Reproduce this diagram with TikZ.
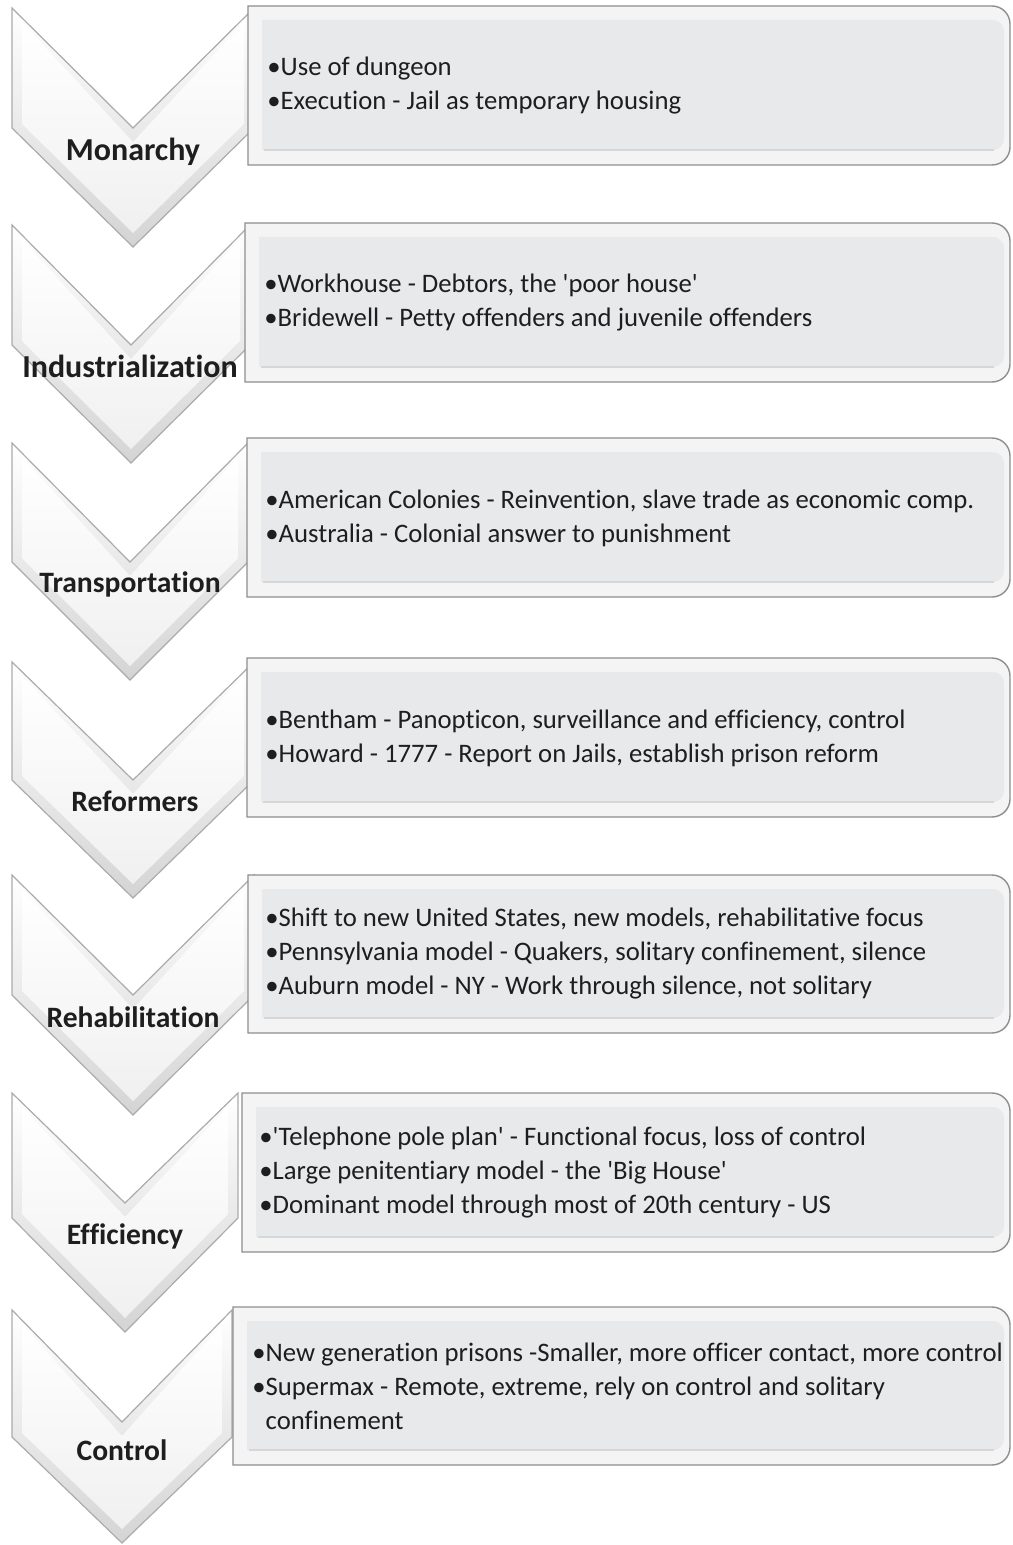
\documentclass[tikz,border=0pt]{standalone}
\usepackage{fontspec}
\newfontfamily\carl{Carlito}[Ligatures=CommonOff]
\definecolor{boxline}{HTML}{8E8E8E}
\definecolor{boxbevel}{HTML}{F4F4F5}
\definecolor{boxface}{HTML}{E8E9EB}
\definecolor{boxshade}{HTML}{D6D7D9}
\definecolor{chevline}{HTML}{ABABAB}
\definecolor{chevlow}{HTML}{D4D4D4}
\definecolor{chevinlow}{HTML}{F0F0F0}
\definecolor{txt}{HTML}{1E1E1E}
\tikzset{
  chevout/.style={draw=chevline, line width=0.6pt, top color=white, bottom color=chevlow},
  chevin/.style={top color=white, bottom color=chevinlow},
  boxout/.style={draw=boxline, line width=0.7pt, fill=boxbevel},
  boxin/.style={fill=boxface},
  boxedge/.style={draw=boxshade, line width=1.2pt},
  bodytext/.style={anchor=west, align=left, inner sep=0pt, text=txt,
    font={\carl\fontsize{13.35}{17}\selectfont}},
  stagelabel/.style={anchor=base, inner sep=0pt, text=txt,
    font={\carl\bfseries\fontsize{14.8}{18}\selectfont}},
  biglabel/.style={stagelabel, font={\carl\bfseries\fontsize{16}{19}\selectfont}}
}
% chevron: #1 top, #2 centre x, #3 notch depth, #4 side length, #5 tip y
\newcommand\chevshape[5]{%
  \path[chevout] (12,#1) -- (#2,{#1+#3}) -- ({2*#2-12},#1) -- ({2*#2-12},{#1+#4})
    -- (#2,#5) -- (12,{#1+#4}) -- cycle;
  \path[chevin] (22,{#1+14}) -- (#2,{#1+#3+14}) -- ({2*#2-22},{#1+14})
    -- ({2*#2-22},{#1+#4-4}) -- (#2,{#5-14}) -- (22,{#1+#4-4}) -- cycle;
}
% box with rounded right corners: #1 left, #2 top, #3 bottom, #4 right, #5 radius
\newcommand\rrpath[5]{%
  (#1,#2) -- ({#4-#5},#2) .. controls ({#4-0.448*#5},#2) and (#4,{#2+0.448*#5}) .. (#4,{#2+#5})
  -- (#4,{#3-#5}) .. controls (#4,{#3-0.448*#5}) and ({#4-0.448*#5},#3) .. ({#4-#5},#3)
  -- (#1,#3) -- cycle
}
\newcommand\stagebox[3]{%
  \path[boxout] \rrpath{#1}{#2}{#3}{1010}{18};
  \path[boxin] \rrpath{#1+14}{#2+14}{#3-15}{1004}{11};
  \draw[boxedge] ({#1+16},{#3-15}) -- (994,{#3-15});
}
\begin{document}
\begin{tikzpicture}[x=0.5pt,y=-0.5pt]
\useasboundingbox (0,0) rectangle (1012,1545);
\fill[white] (0,0) rectangle (1012,1545);

% stage 1
\chevshape{8}{133}{120}{120}{247}
\stagebox{248}{6}{165}
\node[bodytext] (t1) at (267,86) {•Use of dungeon\\•Execution - Jail as temporary housing};
% stage 2
\chevshape{225}{131}{120}{120}{463}
\stagebox{245}{223}{382}
\node[bodytext] (t2) at (264,303) {•Workhouse - Debtors, the 'poor house'\\•Bridewell - Petty offenders and juvenile offenders};
% stage 3
\chevshape{443}{130}{119}{119}{680}
\stagebox{247}{438}{597}
\node[bodytext] (t3) at (265,518) {•American Colonies - Reinvention, slave trade as economic comp.\\•Australia - Colonial answer to punishment};
% stage 4
\chevshape{662}{133}{118}{118}{898}
\stagebox{247}{658}{817}
\node[bodytext] (t4) at (265,738) {•Bentham - Panopticon, surveillance and efficiency, control\\•Howard - 1777 - Report on Jails, establish prison reform};
% stage 5
\chevshape{875}{133}{120}{120}{1115}
\stagebox{248}{875}{1033}
\node[bodytext] (t5) at (265,954) {•Shift to new United States, new models, rehabilitative focus\\•Pennsylvania model - Quakers, solitary confinement, silence\\•Auburn model - NY - Work through silence, not solitary};
% stage 6
\chevshape{1093}{125}{110}{125}{1332}
\stagebox{242}{1093}{1252}
\node[bodytext] (t6) at (259,1173) {•'Telephone pole plan' - Functional focus, loss of control\\•Large penitentiary model - the 'Big House'\\•Dominant model through most of 20th century - US};
% stage 7
\chevshape{1310}{122}{112}{127}{1543}
\stagebox{233}{1307}{1465}
\node[bodytext] (t7) at (252,1386) {•New generation prisons -Smaller, more officer contact, more control\\•Supermax - Remote, extreme, rely on control and solitary\\\phantom{•}confinement};

% stage labels
\node[biglabel] (l1) at (133,161) {Monarchy};
\node[biglabel] (l2) at (130,378) {Industrialization};
\node[stagelabel] (l3) at (130,592) {Transportation};
\node[stagelabel] (l4) at (135,811) {Reformers};
\node[stagelabel] (l5) at (133,1027) {Rehabilitation};
\node[stagelabel] (l6) at (125,1244) {Efficiency};
\node[stagelabel] (l7) at (122,1460) {Control};
\end{tikzpicture}
\end{document}
